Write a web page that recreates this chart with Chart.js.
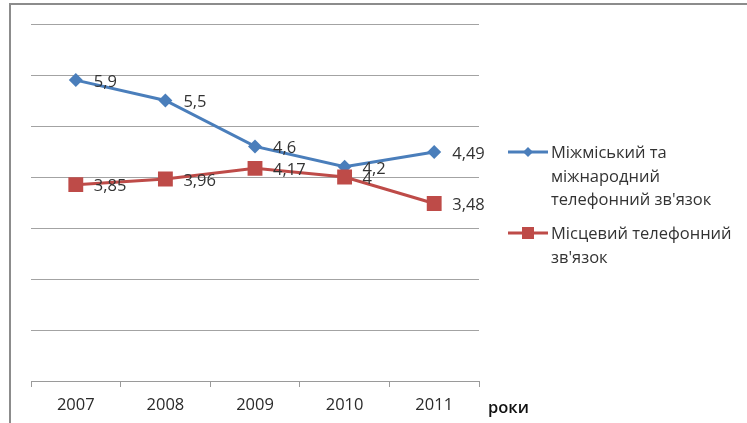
<!DOCTYPE html>
<html><head><meta charset="utf-8">
<script src="https://cdn.jsdelivr.net/npm/chart.js@4.4.0/dist/chart.umd.min.js"></script>
<style>
html,body{margin:0;padding:0;background:#fff;}
#wrap{position:relative;width:747px;height:423px;overflow:hidden;background:#fff;}
#frame{position:absolute;left:9px;top:3px;width:800px;height:500px;border-left:2px solid #8c8c8c;border-top:2px solid #8c8c8c;box-sizing:border-box;}
#c{position:absolute;left:0;top:0;}
.leg{position:absolute;left:551px;font-family:'Open Sans',sans-serif;font-size:16.5px;line-height:23.5px;color:#333;white-space:nowrap;}
.mk{position:absolute;left:506px;}
#axt{position:absolute;left:488px;top:395px;font-family:'Open Sans',sans-serif;font-size:16.5px;line-height:23px;color:#111;font-weight:600;}
</style></head>
<body>
<div id="wrap">
  <div id="frame"></div>
  <canvas id="c" width="747" height="423"></canvas>
  <svg class="mk" style="top:142px" width="44" height="20"><line x1="2" y1="10" x2="42" y2="10" stroke="#4A7EBB" stroke-width="3"/><polygon points="22,5 27,10 22,15 17,10" fill="#4A7EBB"/></svg>
  <div class="leg" id="l1" style="top:140px">Міжміський та<br>міжнародний<br>телефонний зв'язок</div>
  <svg class="mk" style="top:223px" width="44" height="20"><line x1="2" y1="10" x2="42" y2="10" stroke="#BE4B48" stroke-width="3"/><rect x="16" y="4" width="12" height="12" fill="#BE4B48"/></svg>
  <div class="leg" id="l2" style="top:221px">Місцевий телефонний<br>зв'язок</div>
  <div id="axt">роки</div>
</div>
<script>
const categories = ['2007', '2008', '2009', '2010', '2011'];
const intercity = [5.9, 5.5, 4.6, 4.2, 4.49];
const local = [3.85, 3.96, 4.17, 4, 3.48];
const seriesNames = ["Міжміський та міжнародний телефонний зв'язок", "Місцевий телефонний зв'язок"];

const FONT = "'Open Sans', sans-serif";

const labelPlugin = {
  id: 'valueLabels',
  afterDatasetsDraw(chart) {
    const ctx = chart.ctx;
    ctx.save();
    ctx.font = "16.5px " + FONT;
    ctx.fillStyle = '#333';
    ctx.textAlign = 'left';
    ctx.textBaseline = 'middle';
    chart.data.datasets.forEach((ds, i) => {
      const meta = chart.getDatasetMeta(i);
      meta.data.forEach((pt, j) => {
        const txt = String(ds.data[j]).replace('.', ',');
        ctx.fillText(txt, pt.x + 18, pt.y + 2);
      });
    });
    ctx.restore();
  }
};

new Chart(document.getElementById('c'), {
  type: 'line',
  data: {
    labels: categories,
    datasets: [
      {
        label: seriesNames[0], data: intercity, order: 1,
        borderColor: '#4A7EBB', backgroundColor: '#4A7EBB', borderWidth: 3,
        pointStyle: 'rectRot', pointRadius: 7, pointHoverRadius: 7, pointBorderWidth: 0,
        tension: 0, fill: false
      },
      {
        label: seriesNames[1], data: local, order: 0,
        borderColor: '#BE4B48', backgroundColor: '#BE4B48', borderWidth: 3,
        pointStyle: 'rect', pointRadius: 10.5, pointHoverRadius: 10.5, pointBorderWidth: 0,
        tension: 0, fill: false
      }
    ]
  },
  options: {
    responsive: false,
    animation: false,
    devicePixelRatio: 1,
    layout: { padding: { left: 31, top: 24, right: 268, bottom: 0 } },
    plugins: { legend: { display: false }, tooltip: { enabled: false } },
    scales: {
      x: {
        type: 'category',
        offset: true,
        grid: { offset: true, drawOnChartArea: false, drawTicks: true, tickLength: 6, color: '#9a9a9a', lineWidth: 1 },
        border: { display: true, color: '#9a9a9a', width: 1 },
        ticks: { font: { family: FONT, size: 16.5 }, color: '#2a2a2a', padding: 8, maxRotation: 0 },
        afterFit(scale) { scale.height = 42; }
      },
      y: {
        min: 0, max: 7,
        ticks: { stepSize: 1, display: false },
        grid: { drawTicks: false, color: '#a3a3a3', lineWidth: 1 },
        border: { display: false },
        afterFit(scale) { scale.width = 0; }
      }
    }
  },
  plugins: [labelPlugin]
});
</script>
</body></html>
